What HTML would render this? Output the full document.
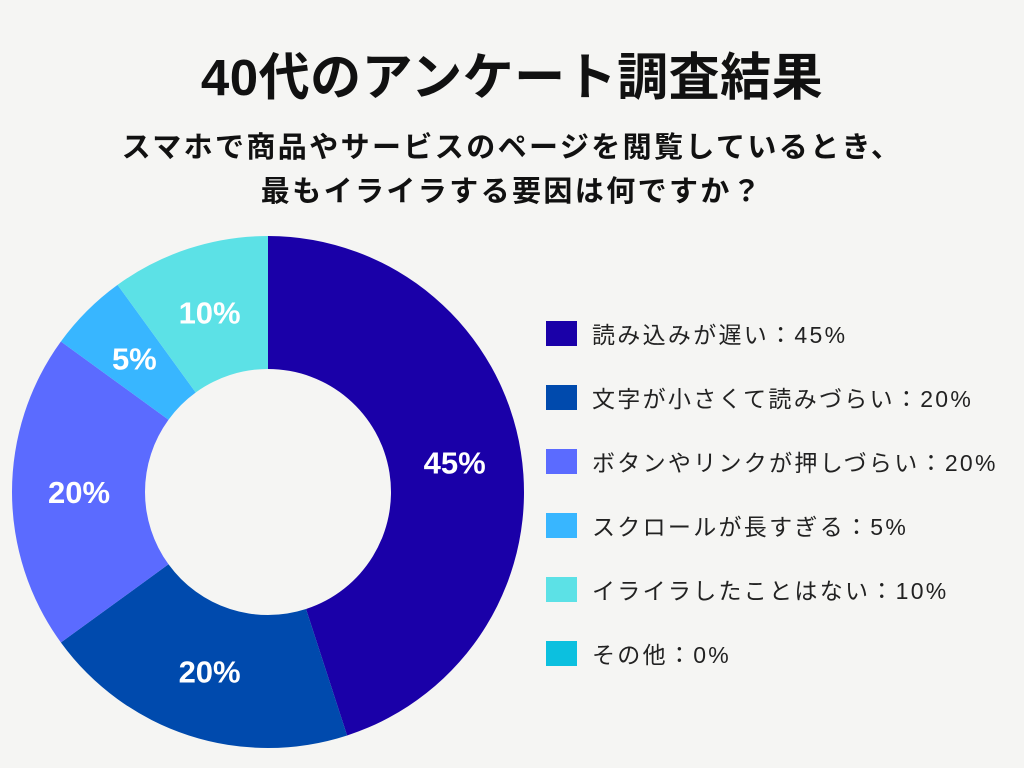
<!DOCTYPE html>
<html><head><meta charset="utf-8"><style>
body{margin:0;width:1024px;height:768px;background:#f5f5f3;overflow:hidden;font-family:"Liberation Sans","Noto Sans CJK JP",sans-serif;position:relative}
.t{position:absolute;left:0;width:1024px;text-align:center;font-weight:bold;color:#111}
.lg{position:absolute;left:546px;height:26px;display:flex;align-items:center}
.sw{width:31px;height:25px;margin-right:15px}
.lt{font-size:23px;color:#222;white-space:nowrap;letter-spacing:2.3px}
</style></head><body>
<div class="t" style="top:36px;font-size:51px;letter-spacing:0.5px">40代のアンケート調査結果</div>
<div class="t" style="top:126px;font-size:29px;line-height:44px;letter-spacing:2.4px">スマホで商品やサービスのページを閲覧しているとき、<br>最もイライラする要因は何ですか？</div>
<svg id="pie" width="1024" height="768" style="position:absolute;left:0;top:0"></svg>
<div id="legend"></div>
<script>
const categories=["読み込みが遅い","文字が小さくて読みづらい","ボタンやリンクが押しづらい","スクロールが長すぎる","イライラしたことはない","その他"];
const values=[45,20,20,5,10,0];
const colors=["#1a00a8","#004aad","#5b6bff","#38b6ff","#5ce1e6","#0cc0df"];
const svg=document.getElementById('pie');
const NS='http://www.w3.org/2000/svg';
const cx=268,cy=492,R=256,r=123,rl=189;
const total=values.reduce((a,b)=>a+b,0);
function pt(a,rad){return [cx+rad*Math.sin(a),cy-rad*Math.cos(a)];}
let acc=0;
values.forEach((v,i)=>{
  if(v<=0)return;
  const a0=acc/total*2*Math.PI,a1=(acc+v)/total*2*Math.PI;acc+=v;
  const lg=(a1-a0)>Math.PI?1:0;
  const [x0,y0]=pt(a0,R),[x1,y1]=pt(a1,R),[x2,y2]=pt(a1,r),[x3,y3]=pt(a0,r);
  const p=document.createElementNS(NS,'path');
  p.setAttribute('d',`M${x0},${y0}A${R},${R} 0 ${lg} 1 ${x1},${y1}L${x2},${y2}A${r},${r} 0 ${lg} 0 ${x3},${y3}Z`);
  p.setAttribute('fill',colors[i]);
  
  
  svg.appendChild(p);
  const [lx,ly]=pt((a0+a1)/2,rl);
  const t=document.createElementNS(NS,'text');
  t.setAttribute('x',lx);t.setAttribute('y',ly+11);
  t.setAttribute('text-anchor','middle');t.setAttribute('fill','#fff');
  t.setAttribute('font-size','31');t.setAttribute('font-weight','bold');
  t.setAttribute('font-family','Liberation Sans, sans-serif');
  t.textContent=v+'%';
  
  
  svg.appendChild(t);
});
const lgd=document.getElementById('legend');
categories.forEach((c,i)=>{
  const d=document.createElement('div');d.className='lg';d.style.top=(320+i*64)+'px';
  
  
  d.innerHTML=`<div class="sw" style="background:${colors[i]}"></div><span class="lt">${c}：${values[i]}%</span>`;
  lgd.appendChild(d);
});
</script>
</body></html>
